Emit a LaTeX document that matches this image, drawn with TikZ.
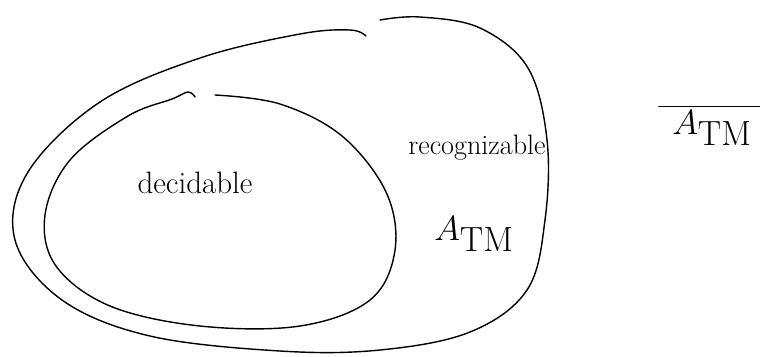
\documentclass[tikz,border=0pt]{standalone}
\usepackage{tikz}
\usetikzlibrary{calc}

\begin{document}
\begin{tikzpicture}[x=0.025cm, y=-0.025cm, line width=1pt, line cap=round]
    \useasboundingbox (0,0) rectangle (760,356);
    \tikzset{hand/.style={font=\fontsize{22}{26}\selectfont}}

    % Draw the outer set (recognizable), open at the top
    \draw plot[smooth, tension=0.6] coordinates {
        (380,20) (420,17) (480,28) (528,68) (547,140) (545,220) (527,290)
        (470,332) (380,350) (280,351) (150,336) (62,300) (15,240) (28,172)
        (100,102) (200,58) (300,34) (350,30) (366,36)};

    % Draw the inner set (decidable), open at the top
    \draw plot[smooth, tension=0.6] coordinates {
        (215,95) (280,104) (342,136) (386,192) (395,250) (370,300) (300,326)
        (200,326) (110,306) (56,266) (45,215) (70,160) (128,116) (172,99)
        (188,92) (195,97)};

    % Labels inside the sets
    \node[hand] (dec) at (195,183) {decidable};
    \node[hand, font=\fontsize{20}{24}\selectfont] (rec) at (477,148) {recognizable};
    \node (atm) at (474,234) {\fontsize{36}{40}\selectfont$A_{\mathrm{TM}}$};

    % The complement, outside both sets
    \node (catm) at (712,128) {\fontsize{36}{40}\selectfont$A_{\mathrm{TM}}$};
    \draw ($(catm.north west)+(-8,2)$) coordinate (bar1) -- ($(catm.north east)+(6,2)$) coordinate (bar2);
\end{tikzpicture}
\end{document}
